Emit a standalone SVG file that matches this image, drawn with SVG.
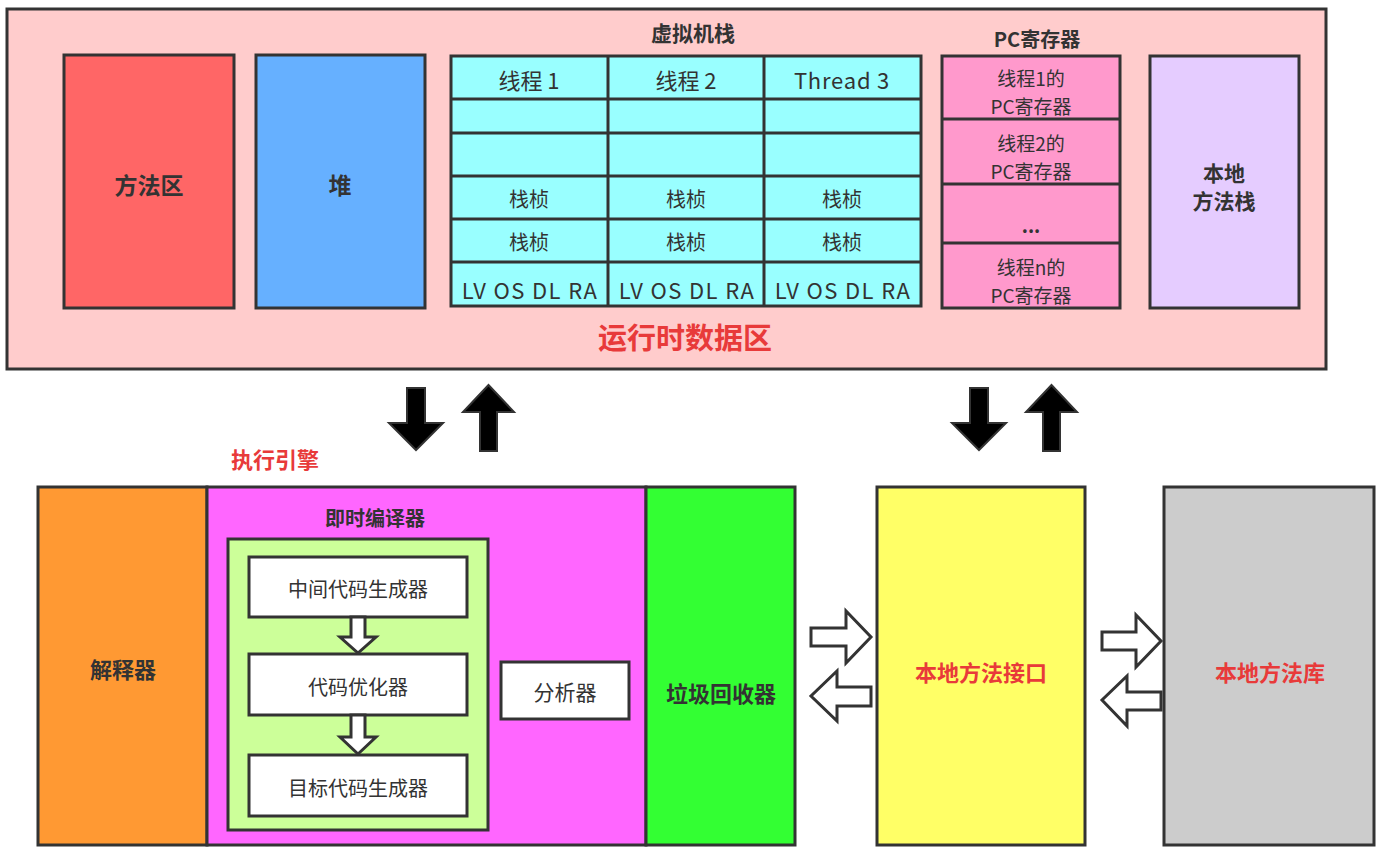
<svg xmlns="http://www.w3.org/2000/svg" width="1381" height="852" viewBox="0 0 1381 852">
<style>
.b{stroke:#333;stroke-width:3}
.t{font-family:"Noto Sans CJK SC","Noto Sans",sans-serif;fill:#333;text-anchor:middle;dominant-baseline:central}
.bold{font-weight:bold}
.red{fill:#e83a3a}
.cell{fill:#99ffff;stroke:#333;stroke-width:3}
.pc{fill:#ff99cc;stroke:#333;stroke-width:3}
.wb{fill:#fff;stroke:#333;stroke-width:3}
.solid{fill:#000;stroke:#333;stroke-width:2}
.hollow{fill:#fff;stroke:#333;stroke-width:3;stroke-linejoin:miter}
</style>
<rect width="1381" height="852" fill="#fff"/>

<g id="runtime-data-area">
<rect x="7" y="9" width="1319" height="360" fill="#ffcccc" class="b"/>
<text x="685" y="336" class="t bold red" font-size="29">运行时数据区</text>
</g>

<g id="method-area">
<rect x="64" y="55" width="170" height="253" fill="#ff6666" class="b"/>
<text x="149" y="184" class="t bold" font-size="23">方法区</text>
</g>

<g id="heap">
<rect x="256" y="55" width="169" height="253" fill="#66b0ff" class="b"/>
<text x="340" y="184" class="t bold" font-size="23">堆</text>
</g>

<g id="vm-stack">
<text x="693" y="32" class="t bold" font-size="21">虚拟机栈</text>
<rect x="451" y="56" width="470" height="250" class="cell"/>
<g fill="none" stroke="#333" stroke-width="3">
<line x1="608" y1="56" x2="608" y2="306"/>
<line x1="764" y1="56" x2="764" y2="306"/>
<line x1="451" y1="99" x2="921" y2="99"/>
<line x1="451" y1="133" x2="921" y2="133"/>
<line x1="451" y1="176" x2="921" y2="176"/>
<line x1="451" y1="219" x2="921" y2="219"/>
<line x1="451" y1="262" x2="921" y2="262"/>
</g>
<g class="t" font-size="22">
<text x="529" y="79">线程 1</text>
<text x="686" y="79">线程 2</text>
<text x="842" y="79" letter-spacing="0.8">Thread 3</text>
</g>
<g class="t" font-size="20">
<text x="529" y="198">栈桢</text>
<text x="686" y="198">栈桢</text>
<text x="842" y="198">栈桢</text>
<text x="529" y="241">栈桢</text>
<text x="686" y="241">栈桢</text>
<text x="842" y="241">栈桢</text>
</g>
<g class="t" font-size="22" letter-spacing="1.4">
<text x="530" y="289">LV OS DL RA</text>
<text x="687" y="289">LV OS DL RA</text>
<text x="843" y="289">LV OS DL RA</text>
</g>
</g>

<g id="pc-register">
<text x="1037" y="38" class="t bold" font-size="20">PC寄存器</text>
<rect x="942" y="56" width="178" height="252" class="pc"/>
<g fill="none" stroke="#333" stroke-width="3">
<line x1="942" y1="119" x2="1120" y2="119"/>
<line x1="942" y1="184" x2="1120" y2="184"/>
<line x1="942" y1="243" x2="1120" y2="243"/>
</g>
<g class="t" font-size="19">
<text x="1031" y="77">线程1的</text>
<text x="1031" y="105">PC寄存器</text>
<text x="1031" y="142">线程2的</text>
<text x="1031" y="170">PC寄存器</text>
<text x="1031" y="224" font-weight="bold">...</text>
<text x="1031" y="266">线程n的</text>
<text x="1031" y="294">PC寄存器</text>
</g>
</g>

<g id="native-method-stack">
<rect x="1150" y="56" width="149" height="252" fill="#e5ccff" class="b"/>
<text x="1224" y="172" class="t bold" font-size="21">本地</text>
<text x="1224" y="200" class="t bold" font-size="21">方法栈</text>
</g>

<g id="exec-engine-label">
<text x="275" y="458" class="t bold red" font-size="22">执行引擎</text>
</g>

<g id="interpreter">
<rect x="38" y="487" width="169" height="358" fill="#ff9933" class="b"/>
<text x="123" y="668" class="t bold" font-size="22">解释器</text>
</g>

<g id="jit-compiler">
<rect x="207" y="487" width="439" height="358" fill="#ff66ff" class="b"/>
<text x="375" y="517" class="t bold" font-size="20" fill="#3a1a3a">即时编译器</text>
<rect x="228" y="539" width="260" height="291" fill="#ccff99" class="b"/>
</g>

<g id="ir-generator">
<rect x="249" y="557" width="218" height="60" class="wb"/>
<text x="358" y="588" class="t" font-size="20">中间代码生成器</text>
</g>
<g id="optimizer">
<rect x="249" y="654" width="218" height="61" class="wb"/>
<text x="358" y="686" class="t" font-size="20">代码优化器</text>
</g>
<g id="target-generator">
<rect x="249" y="755" width="218" height="61" class="wb"/>
<text x="358" y="787" class="t" font-size="20">目标代码生成器</text>
</g>
<g id="analyzer">
<rect x="501" y="662" width="128" height="57" class="wb"/>
<text x="565" y="691" class="t" font-size="21">分析器</text>
</g>

<g id="gc">
<rect x="646" y="487" width="149" height="358" fill="#33ff33" class="b"/>
<text x="721" y="692" class="t bold" font-size="22" fill="#1f3a1f">垃圾回收器</text>
</g>

<g id="jni">
<rect x="877" y="487" width="208" height="358" fill="#ffff66" class="b"/>
<text x="981" y="671" class="t bold red" font-size="22">本地方法接口</text>
</g>

<g id="native-lib">
<rect x="1164" y="487" width="210" height="358" fill="#cccccc" class="b"/>
<text x="1270" y="671" class="t bold red" font-size="22">本地方法库</text>
</g>

<g id="connectors">
<path class="solid" d="M407 388 H425 V423 H443 L416 450 L389 423 H407 Z"/>
<path class="solid" d="M480 451 V412 H463 L488.5 385 L514 412 H497 V451 Z"/>
<path class="solid" d="M970 388 H988 V423 H1006 L979 450 L952 423 H970 Z"/>
<path class="solid" d="M1043 451 V412 H1026 L1051.5 385 L1077 412 H1060 V451 Z"/>
<path class="hollow" d="M351 617 V637 H340 L358 653 L376 637 H365 V617 Z"/>
<path class="hollow" d="M351 715 V737 H340 L358 754 L376 737 H365 V715 Z"/>
<path class="hollow" d="M811 628 H846 V611 L871 637 L846 663 V646 H811 Z"/>
<path class="hollow" d="M871 687 H837 V671 L811 696 L837 721 V706 H871 Z"/>
<path class="hollow" d="M1102 632 H1136 V615 L1161 641 L1136 667 V650 H1102 Z"/>
<path class="hollow" d="M1161 692 H1127 V676 L1102 700 L1127 726 V710 H1161 Z"/>
</g>
</svg>
